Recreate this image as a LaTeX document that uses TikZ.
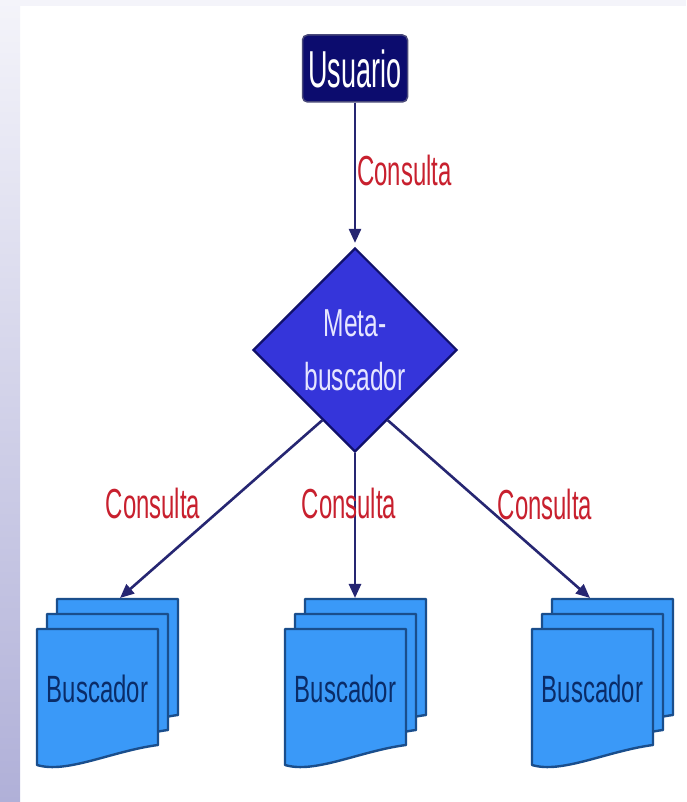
\documentclass[tikz,border=0pt]{standalone}
\usepackage{fontspec}
\usepackage{tikz}
\usetikzlibrary{arrows.meta}
\usetikzlibrary{shapes.geometric}
\newfontfamily\usrfont{Liberation Sans}[FakeStretch=0.52]
\newfontfamily\lblfont{Liberation Sans}[FakeStretch=0.57]
\newfontfamily\boxfont{Liberation Sans}[FakeStretch=0.63]
\definecolor{stripTop}{HTML}{F4F4FA}
\definecolor{stripBot}{HTML}{B0B0D8}
\definecolor{usrFill}{HTML}{0C0C6E}
\definecolor{usrEdge}{HTML}{4A4A7A}
\definecolor{metaFill}{HTML}{3535DA}
\definecolor{metaEdge}{HTML}{10106A}
\definecolor{metaText}{HTML}{E6E6FF}
\definecolor{docFill}{HTML}{3A99F8}
\definecolor{docEdge}{HTML}{1A4E8C}
\definecolor{docText}{HTML}{0A2C68}
\definecolor{lineCol}{HTML}{262672}
\definecolor{conRed}{HTML}{C8202E}
\tikzset{usuario/.style = {rectangle, rounded corners = 5pt, fill = usrFill, draw = usrEdge, line width = 1.5pt,
    minimum width = 105pt, minimum height = 67pt, inner sep = 0, text = white,
    font = \usrfont\fontsize{52}{54}\selectfont}}
\tikzset{meta/.style = {diamond, aspect = 1, minimum width = 204pt, minimum height = 204pt, inner sep = 0,
    fill = metaFill, draw = metaEdge, line width = 2.2pt, text = metaText, align = center,
    font = \boxfont\fontsize{39}{54}\selectfont}}
\tikzset{consulta/.style = {inner sep = 0, text = conRed, font = \lblfont\fontsize{42}{44}\selectfont}}
\tikzset{flecha/.style = {draw = lineCol, line width = 2.6pt, -{Triangle[length = 14pt, width = 12pt]}}}
\tikzset{hoja/.style = {fill = docFill, draw = docEdge, line width = 2.4pt, line join = round}}
\tikzset{pics/buscador/.style = {code = {
      \draw [hoja, shift = {(20, 30)}] (0, 0) -- (121, 0) -- (121, -116) .. controls (75, -122) and (30, -145) .. (0, -136) -- cycle;
      \draw [hoja, shift = {(10, 15)}] (0, 0) -- (121, 0) -- (121, -116) .. controls (75, -122) and (30, -145) .. (0, -136) -- cycle;
      \draw [hoja] (0, 0) -- (121, 0) -- (121, -116) .. controls (75, -122) and (30, -145) .. (0, -136) -- cycle;
      \node [inner sep = 0, text = docText, font = \boxfont\fontsize{38}{40}\selectfont] (-txt) at (60.5, -60) {Buscador};
    }}}

\begin{document}
\begin{tikzpicture}[x = 1pt, y = 1pt]
      \useasboundingbox (0, 0) rectangle (686, 802);
      \fill [white] (0, 0) rectangle (686, 802);
      \shade [top color = stripTop, bottom color = stripBot] (0, 0) rectangle (20, 802);
      \fill [stripTop] (20, 796) rectangle (686, 802);

      \node [usuario] (user) at (355, 733.5) {Usuario};
      \node [meta] (meta) at (355, 452) {Meta-\\buscador};

      \pic (b1) at (37, 173) {buscador};
      \pic (b2) at (285, 173) {buscador};
      \pic (b3) at (532, 173) {buscador};

      \coordinate (q1) at (120, 204);
      \coordinate (q2) at (355, 204);
      \coordinate (q3) at (590, 204);

      \draw [flecha, shorten > = 4pt] (user) -- (meta);
      \draw [flecha] (meta.245) -- (q1);
      \draw [flecha] (meta.south) -- (q2);
      \draw [flecha] (meta.295) -- (q3);

      \node [consulta, anchor = west] (c0) at (357, 632) {Consulta};
      \node [consulta] (c1) at (153, 299) {Consulta};
      \node [consulta] (c2) at (349, 299) {Consulta};
      \node [consulta] (c3) at (545, 298) {Consulta};
\end{tikzpicture}
\end{document}
